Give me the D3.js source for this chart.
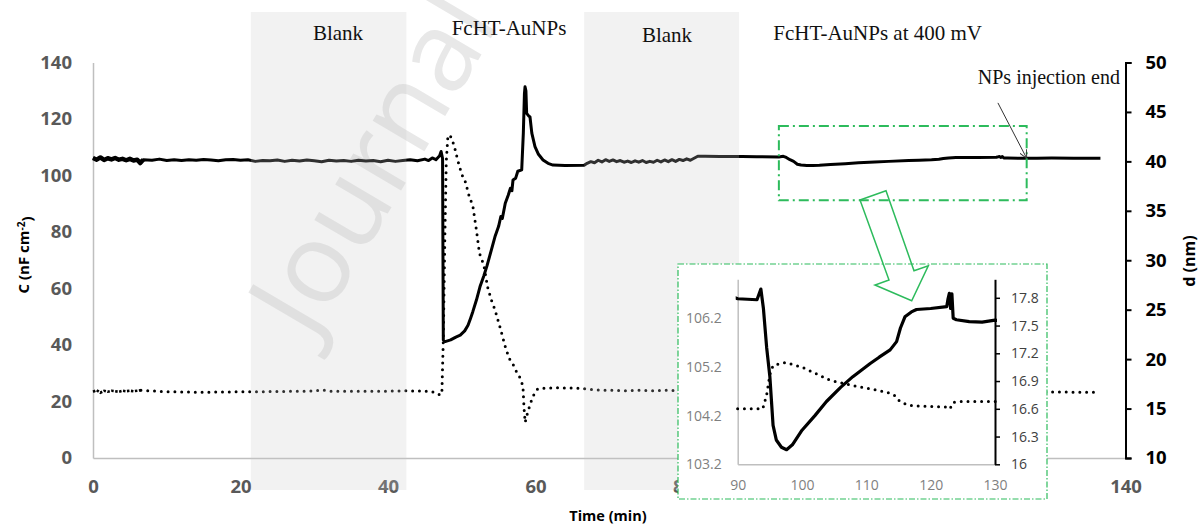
<!DOCTYPE html>
<html>
<head>
<meta charset="utf-8">
<script src="https://cdn.jsdelivr.net/npm/d3@7"></script>
<style>
  body { margin: 0; background: #fff; }
  svg { display: block; }
</style>
</head>
<body>
<script>
var W = 1199, H = 526;

// shaded periods (min)
var bandRanges = [[21.4, 42.5], [66.6, 87.6]];
var xTicks = [0, 20, 40, 60, 80, 100, 120, 140];
var yLeftTicks = [0, 20, 40, 60, 80, 100, 120, 140];
var yRightTicks = [10, 15, 20, 25, 30, 35, 40, 45, 50];
var insetXTicks = [90, 100, 110, 120, 130];
var insetLeftTicks = [103.2, 104.2, 105.2, 106.2];
var insetRightTicks = [16, 16.3, 16.6, 16.9, 17.2, 17.5, 17.8];

// C (nF cm-2) vs time (min), solid line
var capacitance = [
  [0,106.2],[0.5,105.6],[1,106.4],[1.5,105.5],[2,106.1],[2.5,105.7],[3,106.2],[3.5,105.6],[4,105.9],
  [4.5,105.4],[5,105.9],[5.5,105.3],[6,105.6],[6.4,104.4],[6.8,105.6],
  [8,105.4],[9,105.8],[10,105.3],[11,105.6],[12,105.3],[13,105.6],[14,105.4],[15,105.7],[16,105.5],
  [17,105.2],[18,105.6],[19,105.7],[20,105.4],[21,105.6],[22,105.0],[23,105.3],[24,105.2],[25,105.5],
  [26,105.0],[27,105.4],[28,105.1],[29,105.5],[30,105.2],[31,104.9],[32,105.4],[33,105.1],[34,105.3],
  [35,105.0],[36,105.4],[37,105.1],[38,105.3],[39,104.9],[40,105.4],[41,105.0],[42,105.3],[43,105.6],
  [44,105.2],[45,105.8],[45.5,105.3],[46,106.2],[46.5,105.6],[47,107.0],[47.2,108.5],[47.4,106.0],
  [47.5,41.8],[47.75,41.2],[48.5,41.8],[49.2,42.8],[49.8,43.5],[50.4,45.0],[50.85,47.0],[51.2,49.5],
  [51.5,51.8],[52,56.0],[52.47,60.6],[53,64.5],[53.42,68.0],[54,73.5],[54.5,78.3],[55,82.0],[55.3,85.5],
  [55.5,84.8],[55.9,90.2],[56.3,93.0],[56.6,95.5],[56.8,94.6],[56.95,98.4],[57.3,99.0],[57.6,101.5],
  [58.13,102.0],[58.35,115],[58.5,129],[58.58,131.4],[58.7,130],[58.8,122],[59.1,121],[59.25,120.8],
  [59.5,115],[59.93,110.2],[60.4,107.5],[61.02,105.5],[61.7,104.3],[62.37,103.7],[64,103.5],[66.6,103.6],
  [67,104.3],[67.5,104.9],[68,104.5],[68.5,105.4],[69,104.8],[69.5,105.6],[70,105.0],[70.5,105.5],
  [71,104.9],[71.5,105.3],[72,104.7],[72.5,105.1],[73,104.6],[73.5,105.2],[74,104.7],[74.5,105.3],
  [75,104.6],[75.5,105.0],[76,104.7],[76.5,105.4],[77,104.8],[77.5,105.5],[78,104.9],[78.5,105.6],
  [79,105.0],[79.5,105.7],[80,105.3],[80.5,105.9],[81,105.4],[81.5,106.1],[82,106.8],[83,106.8],
  [85,106.7],[88,106.7],[90,106.6],[93,106.58],[93.6,106.8],[94,106.4],[94.5,105.6],[95,105.0],
  [95.5,104.0],[96,103.7],[96.8,103.55],[97.6,103.5],[98.5,103.6],[100,103.9],[102,104.2],[103.8,104.49],
  [106,104.78],[107.9,105.0],[110.6,105.27],[112,105.4],[113.7,105.55],[114.7,105.72],[115.3,106.0],
  [116,106.23],[117,106.33],[117.8,106.38],[120,106.4],[122.5,106.44],[122.7,106.6],[122.9,106.71],
  [123.1,106.4],[123.3,106.7],[123.5,106.2],[124,106.17],[126,106.13],[128,106.12],[130,106.16],
  [133,106.14],[136.6,106.14]
];

// d (nm) vs time (min), dotted line
var thickness = [
  [0,16.7],[0.5,16.85],[1,16.6],[1.5,16.8],[2,16.7],[2.5,16.8],[3,16.75],[3.5,16.7],[4,16.8],
  [4.5,16.75],[5,16.8],[5.5,16.75],[6,16.8],[6.5,16.85],
  [10,16.7],[15,16.65],[20,16.7],[25,16.72],[30,16.78],[31,16.9],[32,16.75],[35,16.75],[40,16.75],
  [42,16.8],[44,16.78],[46,16.72],[46.5,16.5],[47,16.4],[47.3,16.45],[47.5,22],[47.7,32],[47.9,40],
  [48.1,42.3],[48.3,42.7],[48.6,42.4],[49,41.5],[49.5,40],[50,38.7],[50.5,37.9],[51,36.5],[51.5,35.5],
  [52,33],[52.4,30.7],[53,29.5],[53.5,27.3],[54,26],[54.5,25],[55.2,23.2],[56,21],[56.5,20],[57,19.4],
  [57.5,18.6],[58,18],[58.3,17.2],[58.45,15],[58.6,13.6],[58.9,14.5],[59.3,15.5],[59.7,16.3],
  [60.3,17],[61,17.05],[63,17.1],[66,17.05],[68,16.9],[70,16.85],[72,16.8],[74,16.85],[76,16.8],
  [78,16.85],[80,16.8],[84,16.7],[88,16.65],[90,16.6],[93.9,16.6],[94.5,16.75],[95,16.97],[95.5,17.07],
  [97.5,17.1],[100,17.05],[104.3,16.91],[108,16.85],[113.2,16.78],[114.5,16.74],[115.2,16.68],
  [116.5,16.64],[117.8,16.63],[122.5,16.62],[123,16.6],[123.5,16.67],[125,16.68],[130,16.68],
  [133,16.66],[136.3,16.66]
];

var svg = d3.select('body').append('svg')
    .attr('width', W)
    .attr('height', H);

var x = d3.scaleLinear().domain([0, 140]).range([93, 1125.5]);
var yL = d3.scaleLinear().domain([0, 140]).range([458, 62.5]);
var yR = d3.scaleLinear().domain([10, 50]).range([458, 62.5]);

var green = '#2dbb5c';
var tickFont = "'Open Sans', sans-serif";
var serif = "'Liberation Serif', 'Times New Roman', serif";

// watermark
svg.append('text')
    .attr('transform', 'translate(312,342) rotate(-59.5)')
    .style('font-family', tickFont)
    .style('font-size', '112px')
    .style('fill', '#e8e8e8')
    .text('Journal');

// axes
var gl = svg.append('g').attr('transform', 'translate(' + x(0) + ',0)')
    .call(d3.axisLeft(yL).tickValues(yLeftTicks).tickSize(0).tickPadding(21));
var gb = svg.append('g').attr('transform', 'translate(0,' + yL(0) + ')')
    .call(d3.axisBottom(x).tickValues(xTicks).tickSize(0).tickPadding(22));
var gr = svg.append('g').attr('transform', 'translate(' + x(140) + ',0)')
    .call(d3.axisRight(yR).tickValues(yRightTicks).tickSize(6).tickSizeOuter(6).tickPadding(14));

[gl, gb].forEach(function(g) {
    g.select('.domain').attr('stroke', '#bfbfbf').attr('stroke-width', 1.5);
    g.selectAll('text').style('font-family', tickFont).style('font-size', '18.5px')
        .style('font-weight', 'bold').attr('fill', '#595959');
});
gr.select('.domain').attr('stroke', '#000').attr('stroke-width', 2);
gr.selectAll('line').attr('stroke', '#000').attr('stroke-width', 2);
gr.selectAll('text').style('font-family', tickFont).style('font-size', '18.5px')
    .style('font-weight', 'bold').attr('fill', '#000');

// series
var lineL = d3.line().x(function(d) { return x(d[0]); }).y(function(d) { return yL(d[1]); });
var lineR = d3.line().x(function(d) { return x(d[0]); }).y(function(d) { return yR(d[1]); });

svg.append('path')
    .datum(thickness.filter(function(d) { return d[0] <= 6.5; }))
    .attr('d', lineR)
    .attr('fill', 'none').attr('stroke', '#000').attr('stroke-width', 2.6)
    .attr('stroke-dasharray', '2.5 1.5');
svg.append('path')
    .datum(thickness.filter(function(d) { return d[0] >= 6.5; }))
    .attr('d', lineR)
    .attr('fill', 'none').attr('stroke', '#000').attr('stroke-width', 3)
    .attr('stroke-linecap', 'round')
    .attr('stroke-dasharray', '0 6.8');

svg.append('path')
    .datum(capacitance.filter(function(d) { return d[0] <= 6.8; }))
    .attr('d', lineL)
    .attr('fill', 'none').attr('stroke', '#000').attr('stroke-width', 4.5)
    .attr('stroke-linejoin', 'round');
svg.append('path')
    .datum(capacitance)
    .attr('d', lineL)
    .attr('fill', 'none').attr('stroke', '#000').attr('stroke-width', 3)
    .attr('stroke-linejoin', 'round');

// shaded periods lie over the curves, so lines look grey inside them
svg.selectAll('rect.band')
    .data(bandRanges)
    .enter()
    .append('rect')
    .attr('class', 'band')
    .attr('x', function(d) { return x(d[0]); })
    .attr('width', function(d) { return x(d[1]) - x(d[0]); })
    .attr('y', 12)
    .attr('height', 478)
    .attr('fill', '#c8c8c8')
    .attr('fill-opacity', 0.24);

// period captions
var captions = [
    {t: 'Blank', x: 338, y: 40, a: 'middle'},
    {t: 'FcHT-AuNPs', x: 509, y: 35, a: 'middle'},
    {t: 'Blank', x: 667, y: 42, a: 'middle'},
    {t: 'FcHT-AuNPs at 400 mV', x: 982, y: 40, a: 'end'}
];
svg.selectAll('text.cap')
    .data(captions)
    .enter()
    .append('text')
    .attr('class', 'cap')
    .attr('x', function(d) { return d.x; })
    .attr('y', function(d) { return d.y; })
    .attr('text-anchor', function(d) { return d.a; })
    .style('font-family', serif)
    .style('font-size', '21px')
    .attr('fill', '#111')
    .text(function(d) { return d.t; });

// zoom box on main chart
svg.append('rect')
    .attr('x', x(93)).attr('y', yL(117.5))
    .attr('width', x(126.6) - x(93)).attr('height', yL(91.2) - yL(117.5))
    .attr('fill', 'none').attr('stroke', green).attr('stroke-width', 2)
    .attr('stroke-dasharray', '10 4 2 4');

// NPs injection end annotation
svg.append('defs').append('marker')
    .attr('id', 'arr')
    .attr('viewBox', '0 0 10 10')
    .attr('refX', 10).attr('refY', 5)
    .attr('markerWidth', 8).attr('markerHeight', 8)
    .attr('markerUnits', 'userSpaceOnUse')
    .attr('orient', 'auto')
    .append('path')
    .attr('d', 'M0,0L10,5L0,10')
    .attr('fill', 'none').attr('stroke', '#333').attr('stroke-width', 1.2);
svg.append('line')
    .attr('x1', x(122.7)).attr('y1', yL(125.7))
    .attr('x2', x(126.6)).attr('y2', yL(106.1))
    .attr('stroke', '#333').attr('stroke-width', 1)
    .attr('marker-end', 'url(#arr)');
svg.append('text')
    .attr('x', 1120).attr('y', 84)
    .attr('text-anchor', 'end')
    .style('font-family', serif)
    .style('font-size', '20px')
    .attr('fill', '#111')
    .text('NPs injection end');

// ---- inset ----
var inset = {x0: 678, y0: 264, x1: 1047, y1: 499};
svg.append('rect')
    .attr('x', inset.x0).attr('y', inset.y0)
    .attr('width', inset.x1 - inset.x0).attr('height', inset.y1 - inset.y0)
    .attr('fill', '#fff').attr('stroke', green).attr('stroke-width', 1.2)
    .attr('stroke-dasharray', '6 2 1.5 2');

// hollow arrow pointing into the inset
svg.append('path')
    .attr('d', 'M860,200L886,190.7L914,270.7L928.3,265.7L911.7,300.7L875,285L889,280Z')
    .attr('fill', 'none').attr('stroke', green).attr('stroke-width', 1.5);

var ix = d3.scaleLinear().domain([90, 130]).range([737.7, 995]);
var iyL = d3.scaleLinear().domain([103.2, 107]).range([464.3, 279.3]);
var iyR = d3.scaleLinear().domain([16, 18]).range([464.3, 279.3]);

svg.append('clipPath').attr('id', 'insetClip')
    .append('rect')
    .attr('x', ix(90) - 2).attr('y', iyL(107))
    .attr('width', ix(130) - ix(90) + 4).attr('height', iyL(103.2) - iyL(107));

var il = svg.append('g').attr('transform', 'translate(' + ix(90) + ',0)')
    .call(d3.axisLeft(iyL).tickValues(insetLeftTicks).tickFormat(d3.format('.1f')).tickSize(0).tickPadding(16));
var ib = svg.append('g').attr('transform', 'translate(0,' + iyL(103.2) + ')')
    .call(d3.axisBottom(ix).tickValues(insetXTicks).tickSize(0).tickPadding(16));
var ir = svg.append('g').attr('transform', 'translate(' + ix(130) + ',0)')
    .call(d3.axisRight(iyR).tickValues(insetRightTicks).tickFormat(function(d) { return String(+d.toFixed(1)); })
        .tickSize(5).tickSizeOuter(0).tickPadding(11));

[il, ib].forEach(function(g) {
    g.select('.domain').attr('stroke', '#bfbfbf').attr('stroke-width', 1.5);
    g.selectAll('text').style('font-family', tickFont).style('font-size', '14px').attr('fill', '#7f7f7f');
});
ir.select('.domain').attr('stroke', '#000').attr('stroke-width', 2);
ir.selectAll('line').attr('stroke', '#000').attr('stroke-width', 1.5);
ir.selectAll('text').style('font-family', tickFont).style('font-size', '14px').attr('fill', '#404040');

var ilineL = d3.line().x(function(d) { return ix(d[0]); }).y(function(d) { return iyL(d[1]); });
var ilineR = d3.line().x(function(d) { return ix(d[0]); }).y(function(d) { return iyR(d[1]); });
var ig = svg.append('g').attr('clip-path', 'url(#insetClip)');

ig.append('path')
    .datum(thickness.filter(function(d) { return d[0] >= 88 && d[0] <= 133; }))
    .attr('d', ilineR)
    .attr('fill', 'none').attr('stroke', '#000').attr('stroke-width', 3)
    .attr('stroke-linecap', 'round')
    .attr('stroke-dasharray', '0 6.8');
ig.append('path')
    .datum(capacitance.filter(function(d) { return d[0] >= 88 && d[0] <= 133; }))
    .attr('d', ilineL)
    .attr('fill', 'none').attr('stroke', '#000').attr('stroke-width', 3.2)
    .attr('stroke-linejoin', 'round');

// axis titles
var lt = svg.append('text')
    .attr('transform', 'translate(24,255) rotate(-90)')
    .attr('text-anchor', 'middle').attr('dy', '0.35em')
    .style('font-family', tickFont).style('font-size', '15px').style('font-weight', 'bold');
lt.append('tspan').text('C (nF cm');
lt.append('tspan').attr('dy', '-0.45em').style('font-size', '10px').text('-2');
lt.append('tspan').attr('dy', '0.45em').text(')');

svg.append('text')
    .attr('transform', 'translate(1189,261) rotate(-90)')
    .attr('text-anchor', 'middle').attr('dy', '0.35em')
    .style('font-family', tickFont).style('font-size', '16px').style('font-weight', 'bold')
    .text('d (nm)');

svg.append('text')
    .attr('x', 608).attr('y', 521)
    .attr('text-anchor', 'middle')
    .style('font-family', tickFont).style('font-size', '14.5px').style('font-weight', 'bold')
    .text('Time (min)');
</script>
</body>
</html>
